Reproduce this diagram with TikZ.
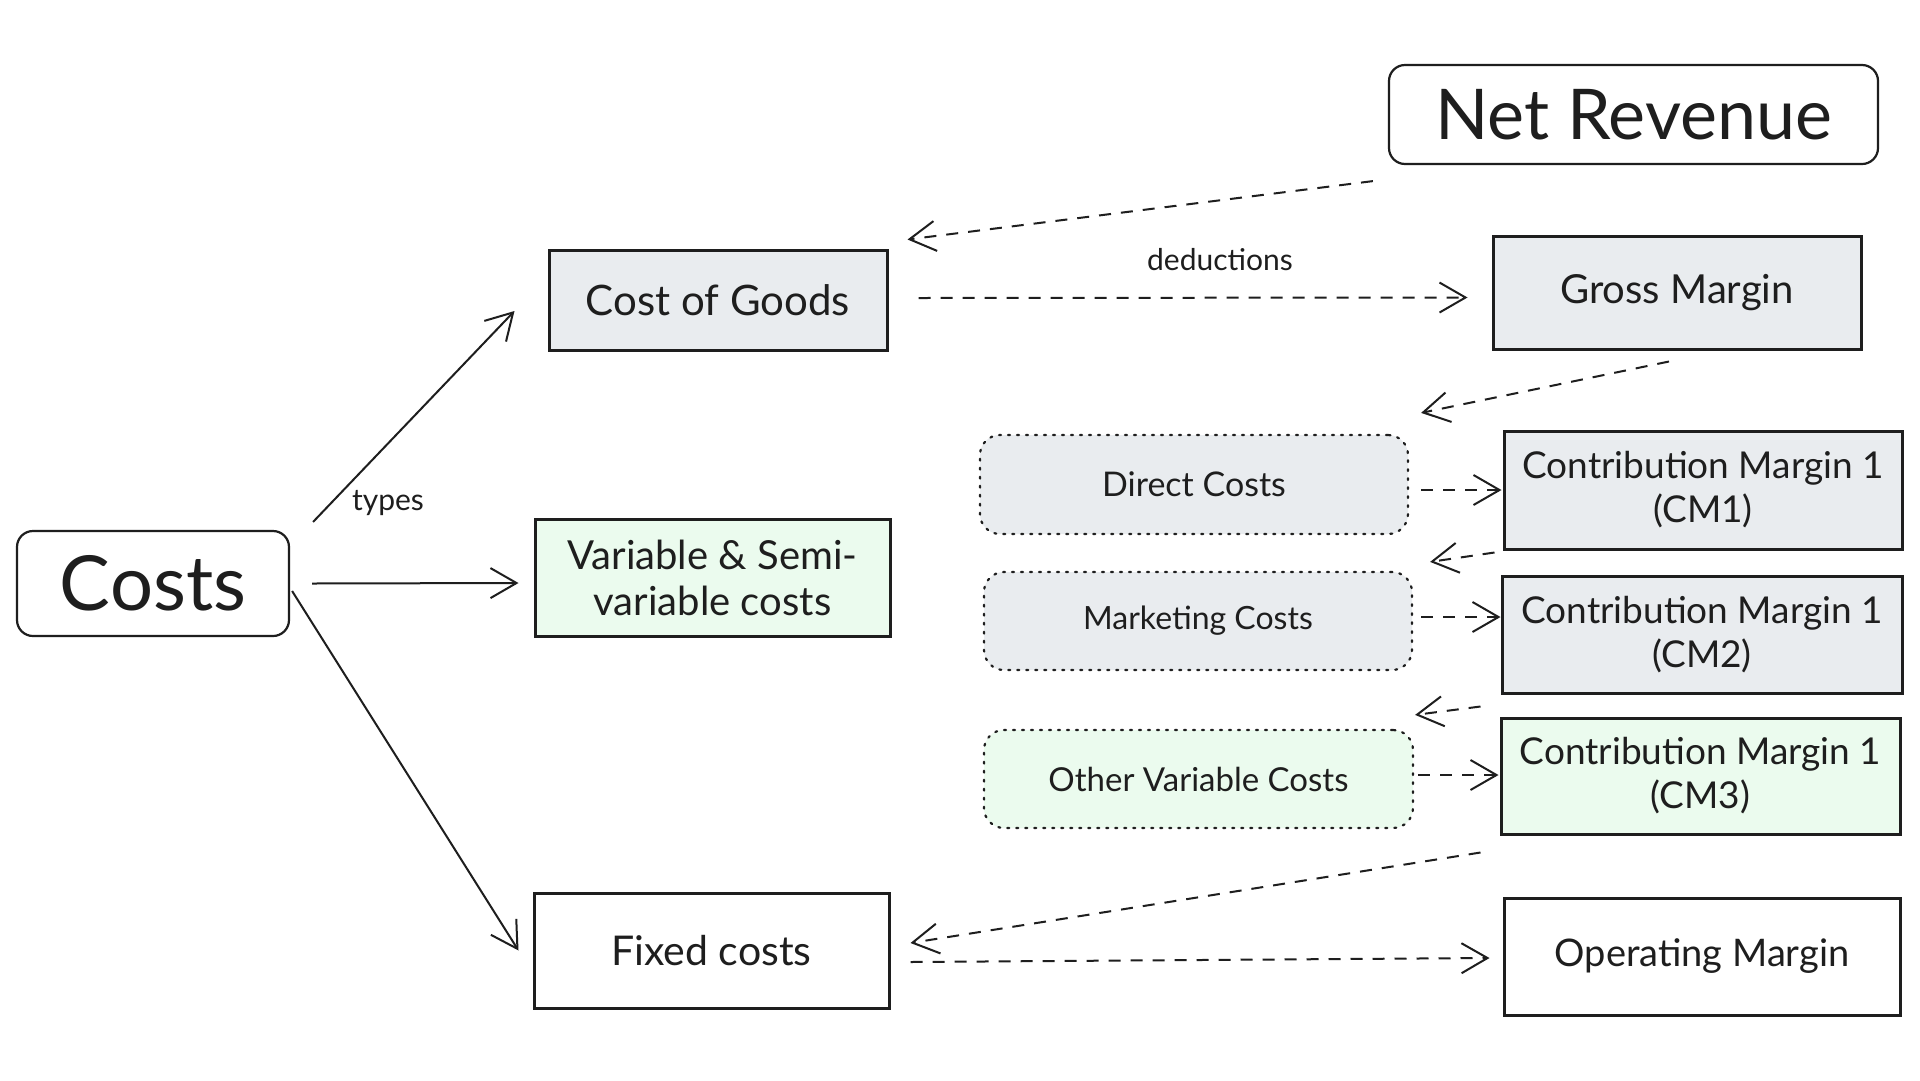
\documentclass[tikz,border=0pt]{standalone}
\usepackage{fontspec}
\setmainfont{Lato}
\usetikzlibrary{arrows.meta}
\definecolor{ink}{HTML}{1E1E1E}
\definecolor{grayfill}{HTML}{E9ECEF}
\definecolor{greenfill}{HTML}{EBFBEE}
\newcommand{\fs}[2]{\fontsize{#1}{#2}\selectfont}
\tikzset{
  base/.style={draw=ink, text=ink, align=center, inner sep=0pt},
  sharpbox/.style={base, line width=3pt},
  roundbox/.style={base, line width=2.2pt, rounded corners=16pt},
  dotbox/.style={base, line width=2.2pt, dash pattern=on 2pt off 7pt, line cap=round, rounded corners=20pt, fill=grayfill},
  conn/.style={draw=ink, line width=2pt, -{Straight Barb[length=26pt,width=30pt,line width=2pt]}},
  dconn/.style={conn, dash pattern=on 12pt off 10pt},
  lbl/.style={text=ink, inner sep=0pt}
}
\begin{document}
\begin{tikzpicture}[x=1pt,y=-1pt]
\useasboundingbox[fill=white] (0,0) rectangle (1920,1080);

\node[roundbox, font=\fs{70}{80}, minimum width=489pt, minimum height=99pt] (netrev) at (1633.5,114.5) {Net Revenue};
\node[roundbox, font=\fs{76}{86}, minimum width=272pt, minimum height=105pt] (costs) at (153,583.5) {Costs};

\node[sharpbox, font=\fs{42}{48}, fill=grayfill, minimum width=338pt, minimum height=100pt] (cog) at (718,300) {Cost of Goods};
\node[sharpbox, font=\fs{40}{46}, fill=grayfill, minimum width=368pt, minimum height=113pt] (gm) at (1677,292.5) {Gross Margin};
\node[sharpbox, font=\fs{40}{46}, fill=greenfill, minimum width=355pt, minimum height=117pt] (var) at (712.5,577.5) {Variable \& Semi-\\variable costs};
\node[sharpbox, font=\fs{41}{48}, minimum width=355pt, minimum height=115pt] (fixed) at (711.5,950.5) {Fixed costs};
\node[sharpbox, font=\fs{38}{44}, minimum width=396pt, minimum height=117pt] (op) at (1702,956.5) {Operating Margin};

\node[dotbox, font=\fs{34}{40}, minimum width=428pt, minimum height=99pt] (direct) at (1194,484.5) {Direct Costs};
\node[dotbox, font=\fs{32}{38}, minimum width=428pt, minimum height=98pt] (mkt) at (1198,621) {Marketing Costs};
\node[dotbox, font=\fs{33}{38}, fill=greenfill, minimum width=429pt, minimum height=98pt] (other) at (1198.5,779) {Other Variable Costs};

\node[sharpbox, font=\fs{37}{44}, fill=grayfill, minimum width=398pt, minimum height=118pt] (cm1) at (1703,490) {Contribution Margin 1\\(CM1)};
\node[sharpbox, font=\fs{37}{44}, fill=grayfill, minimum width=400pt, minimum height=117pt] (cm2) at (1702,634.5) {Contribution Margin 1\\(CM2)};
\node[sharpbox, font=\fs{37}{44}, fill=greenfill, minimum width=399pt, minimum height=116pt] (cm3) at (1700.5,776) {Contribution Margin 1\\(CM3)};

% labels
\node[lbl, font=\fs{30}{36}] (types) at (388,503) {types};
\node[lbl, font=\fs{30}{36}] (ded) at (1220,260) {deductions};

% solid connectors from Costs
\draw[conn] ([shift={(23,-8)}]costs.north east) -- ([shift={(-33,11)}]cog.west);
\draw[conn] ([shift={(22,0)}]costs.east) -- ([shift={(-15,5.5)}]var.west);
\draw[conn] ([shift={(2,7.5)}]costs.east) -- ([shift={(-14,0)}]fixed.west);

% dashed connectors
\draw[dconn] ([shift={(-15,16)}]netrev.south west) -- ([shift={(19,-9)}]cog.north east);
\draw[dconn] ([shift={(30,-2)}]cog.east) -- ([shift={(-24,5)}]gm.west);
\draw[dconn] ([shift={(-8,11)}]gm.south) -- ([shift={(12,-21)}]direct.north east);
\draw[dconn] ([shift={(12,5.5)}]direct.east) -- ([shift={(-1,0)}]cm1.west);
\draw[dconn] ([shift={(-8,2)}]cm1.south west) -- ([shift={(17,-9)}]mkt.north east);
\draw[dconn] ([shift={(8,-4)}]mkt.east) -- ([shift={(0,-17.5)}]cm2.west);
\draw[dconn] ([shift={(-20,12)}]cm2.south west) -- ([shift={(1,-14)}]other.north east);
\draw[dconn] ([shift={(4,-4)}]other.east) -- ([shift={(-1,-1)}]cm3.west);
\draw[dconn] ([shift={(-19,17)}]cm3.south west) -- ([shift={(20,-7.5)}]fixed.east);
\draw[dconn] ([shift={(20,11.5)}]fixed.east) -- ([shift={(-13,1.5)}]op.west);
\end{tikzpicture}
\end{document}
